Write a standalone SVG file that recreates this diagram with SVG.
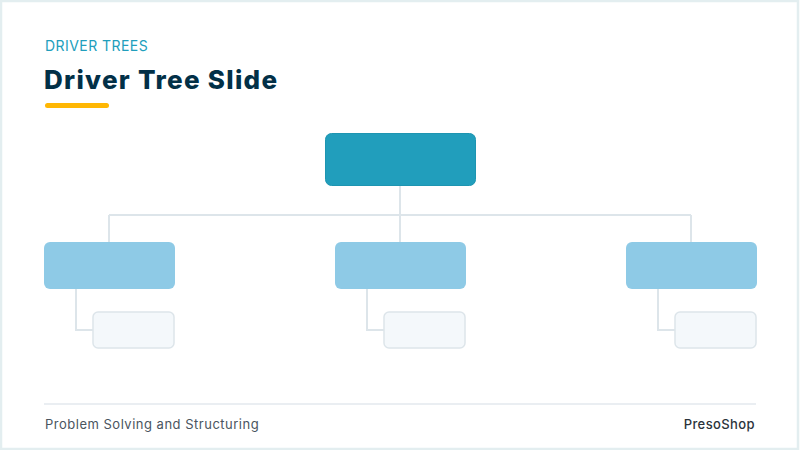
<svg xmlns="http://www.w3.org/2000/svg" width="800" height="450" viewBox="0 0 800 450">
  <style>
    .kicker { font-family: Inter, "Open Sans", "Liberation Sans", sans-serif; font-size: 14px; fill: #219EBC; letter-spacing: 0.45px; }
    .title { font-family: Inter, "Open Sans", "Liberation Sans", sans-serif; font-size: 26px; font-weight: 800; fill: #023047; letter-spacing: 1.3px; }
    .footer { font-family: Inter, "Open Sans", "Liberation Sans", sans-serif; font-size: 13px; fill: #4A5560; letter-spacing: 0.5px; }
    .brand { font-family: Inter, "Open Sans", "Liberation Sans", sans-serif; font-size: 13px; font-weight: 500; fill: #2B333B; letter-spacing: 0.4px; }
    .root { fill: #219EBC; stroke: #1E95B1; stroke-width: 1; }
    .driver { fill: #8ECAE6; }
    .leaf { fill: #F4F8FB; stroke: #DDE5EA; stroke-width: 1.5; }
    .conn { fill: none; stroke: #DDE5EA; stroke-width: 2; }
  </style>
  <rect x="0" y="0" width="800" height="450" fill="#FFFFFF"/>
  <rect x="1" y="1" width="797" height="448" fill="none" stroke="#E3EEF0" stroke-width="2.5"/>

  <text class="kicker" x="45" y="51">DRIVER TREES</text>
  <text class="title" x="44" y="89">Driver Tree Slide</text>
  <rect x="45" y="103" width="64" height="5" rx="2.5" fill="#FFB703"/>

  <g id="connectors">
    <path class="conn" d="M400 185 V215 M109 215 H691 M109 215 V242 M400 215 V242 M691 215 V242"/>
    <path class="conn" d="M76 289 V330 H93"/>
    <path class="conn" d="M367 289 V330 H384"/>
    <path class="conn" d="M658 289 V330 H675"/>
  </g>

  <g id="root"><rect class="root" x="325.5" y="133.5" width="150" height="52" rx="6"/></g>

  <g id="driver-left"><rect class="driver" x="44" y="242" width="131" height="47" rx="6"/></g>
  <g id="driver-center"><rect class="driver" x="335" y="242" width="131" height="47" rx="6"/></g>
  <g id="driver-right"><rect class="driver" x="626" y="242" width="131" height="47" rx="6"/></g>

  <g id="leaf-left"><rect class="leaf" x="93" y="312" width="81" height="36" rx="5"/></g>
  <g id="leaf-center"><rect class="leaf" x="384" y="312" width="81" height="36" rx="5"/></g>
  <g id="leaf-right"><rect class="leaf" x="675" y="312" width="81" height="36" rx="5"/></g>

  <line x1="44" y1="404" x2="756" y2="404" stroke="#E3E9EE" stroke-width="1.5"/>
  <text class="footer" x="45" y="429">Problem Solving and Structuring</text>
  <text class="brand" x="755" y="429" text-anchor="end">PresoShop</text>
</svg>
